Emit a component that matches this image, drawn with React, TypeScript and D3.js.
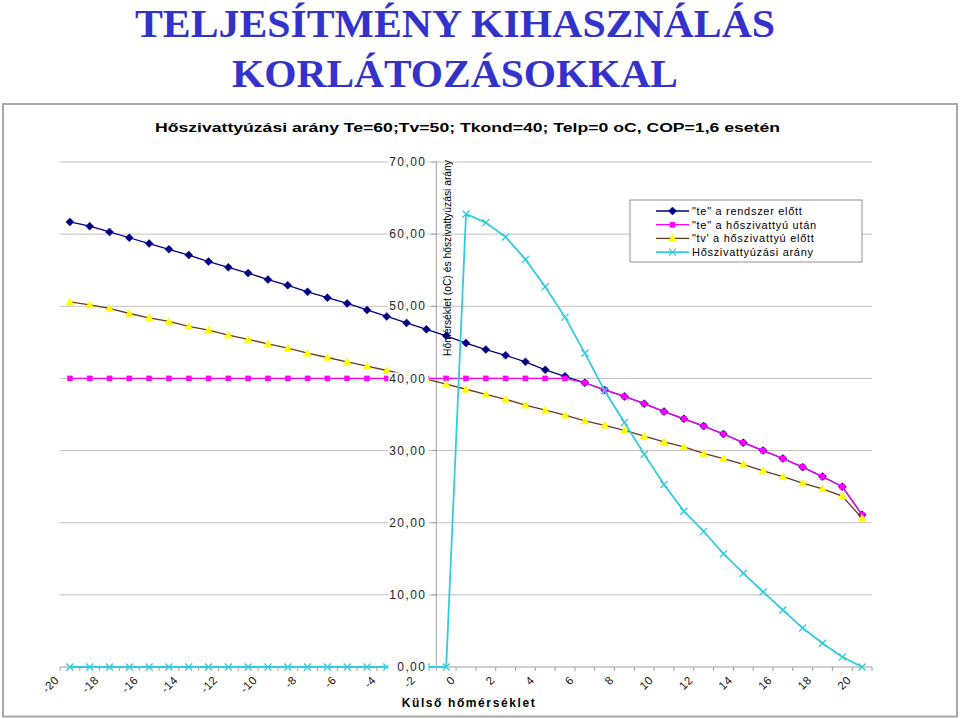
import React from 'react';
import * as d3 from 'd3';

const temps = [-20, -19, -18, -17, -16, -15, -14, -13, -12, -11, -10, -9, -8, -7, -6, -5, -4, -3, -2, -1, 0, 1, 2, 3, 4, 5, 6, 7, 8, 9, 10, 11, 12, 13, 14, 15, 16, 17, 18, 19, 20];
const tickLabels = [-20, -18, -16, -14, -12, -10, -8, -6, -4, -2, 0, 2, 4, 6, 8, 10, 12, 14, 16, 18, 20];
const yTicks = [0, 10, 20, 30, 40, 50, 60, 70];

const teBefore = [61.7, 61.1, 60.3, 59.5, 58.7, 57.9, 57.1, 56.2, 55.4, 54.6, 53.7, 52.9, 52.0, 51.2, 50.4, 49.5, 48.6, 47.7, 46.8, 45.9, 44.9, 44.0, 43.2, 42.3, 41.2, 40.3, 39.4, 38.4, 37.5, 36.5, 35.4, 34.4, 33.4, 32.3, 31.1, 30.0, 28.9, 27.7, 26.4, 25.0, 21.1];
const teAfter = [40, 40, 40, 40, 40, 40, 40, 40, 40, 40, 40, 40, 40, 40, 40, 40, 40, 40, 40, 40, 40, 40, 40, 40, 40, 40, 39.4, 38.4, 37.5, 36.5, 35.4, 34.4, 33.4, 32.3, 31.1, 30.0, 28.9, 27.7, 26.4, 25.0, 21.1];
const tvBefore = [50.6, 50.2, 49.7, 49.0, 48.4, 47.9, 47.2, 46.7, 46.0, 45.4, 44.8, 44.2, 43.5, 42.9, 42.3, 41.7, 41.1, 40.5, 39.9, 39.2, 38.5, 37.8, 37.1, 36.3, 35.6, 34.9, 34.1, 33.5, 32.8, 32.0, 31.2, 30.5, 29.6, 28.9, 28.1, 27.2, 26.4, 25.5, 24.7, 23.7, 20.6];
const hpRatio = [0, 0, 0, 0, 0, 0, 0, 0, 0, 0, 0, 0, 0, 0, 0, 0, 0, 0, 0, 0, 62.8, 61.6, 59.6, 56.5, 52.7, 48.5, 43.5, 38.3, 33.9, 29.5, 25.3, 21.6, 18.8, 15.7, 13.0, 10.4, 7.9, 5.4, 3.3, 1.4, 0];

const seriesNames = ['"te" a rendszer előtt', '"te" a hőszivattyú után', '"tv\' a hőszivattyú előtt', 'Hőszivattyúzási arány'];

const FONT = 'Arial, "Liberation Sans", Helvetica, sans-serif';

type Marker = 'diamond' | 'square' | 'triangle' | 'x';

function MarkerShape({ kind, x, y, fill, stroke }: { kind: Marker; x: number; y: number; fill: string; stroke: string }) {
  if (kind === 'diamond') return <path d={`M${x},${y - 4}L${x + 4},${y}L${x},${y + 4}L${x - 4},${y}Z`} fill={fill} stroke={stroke} strokeWidth={0.5} />;
  if (kind === 'square') return <rect x={x - 2.5} y={y - 2.5} width={5} height={5} fill={fill} stroke={stroke} strokeWidth={0.5} />;
  if (kind === 'triangle') return <path d={`M${x},${y - 4}L${x + 4},${y + 3}L${x - 4},${y + 3}Z`} fill={fill} stroke={fill} strokeWidth={0.5} />;
  return <path d={`M${x - 3.5},${y - 3.5}L${x + 3.5},${y + 3.5}M${x - 3.5},${y + 3.5}L${x + 3.5},${y - 3.5}`} stroke={stroke} strokeWidth={1.3} fill="none" />;
}

export default function App() {
  const x = d3.scaleBand<number>().domain(temps).range([60, 872]).paddingInner(0).paddingOuter(0);
  const y = d3.scaleLinear().domain([0, 70]).range([667, 162]);
  const cx = (t: number) => (x(t) as number) + x.bandwidth() / 2;
  const line = d3.line<number>().x((_, i) => cx(temps[i])).y((d) => y(d));
  const yAxisX = x(-1) as number;
  const x0 = 60, x1 = 872;

  const series = [
    { name: seriesNames[0], data: teBefore, color: '#000080', mfill: '#000080', mstroke: '#000080', marker: 'diamond' as Marker, w: 1.3 },
    { name: seriesNames[1], data: teAfter, color: '#FF00FF', mfill: '#FF00FF', mstroke: '#FF00FF', marker: 'square' as Marker, w: 1.3 },
    { name: seriesNames[2], data: tvBefore, color: '#6b3a1f', mfill: '#FFFF00', mstroke: '#FFFF00', marker: 'triangle' as Marker, w: 1.3 },
    { name: seriesNames[3], data: hpRatio, color: '#33CCDD', mfill: 'none', mstroke: '#33CCDD', marker: 'x' as Marker, w: 1.8 },
  ];

  const boundaries = temps.map((t) => x(t) as number).concat([x1]);

  return (
    <svg width={960} height={719} style={{ position: 'absolute', left: 0, top: 0, background: '#fff' }} fontFamily={FONT}>
      <rect x={0} y={0} width={960} height={719} fill="#fff" />
      {/* main titles */}
      <text x={455} y={37} textAnchor="middle" fontFamily='"Liberation Serif", "Times New Roman", serif' fontWeight="bold" fontSize={40} fill="#3333CC" textLength={640} lengthAdjust="spacingAndGlyphs">TELJESÍTMÉNY KIHASZNÁLÁS</text>
      <text x={455} y={87} textAnchor="middle" fontFamily='"Liberation Serif", "Times New Roman", serif' fontWeight="bold" fontSize={40} fill="#3333CC" textLength={446} lengthAdjust="spacingAndGlyphs">KORLÁTOZÁSOKKAL</text>

      {/* chart border */}
      <rect x={3} y={104} width={954} height={612.5} fill="#fff" stroke="#a8a8a8" strokeWidth={2} />

      <text x={467.5} y={132} textAnchor="middle" fontWeight="bold" fontSize={13} fill="#000" textLength={625} lengthAdjust="spacingAndGlyphs">Hőszivattyúzási arány Te=60;Tv=50; Tkond=40; Telp=0 oC, COP=1,6 esetén</text>

      {/* gridlines */}
      {yTicks.filter((v) => v > 0).map((v) => (
        <line key={'g' + v} x1={x0} x2={x1} y1={y(v)} y2={y(v)} stroke="#c0c0c0" strokeWidth={1} />
      ))}

      {/* x axis */}
      <line x1={x0} x2={x1} y1={y(0)} y2={y(0)} stroke="#a0a0a0" strokeWidth={1} />
      {boundaries.map((b, i) => (
        <line key={'xt' + i} x1={b} x2={b} y1={y(0)} y2={y(0) + 4} stroke="#a0a0a0" strokeWidth={1} />
      ))}
      {/* y axis */}
      <line x1={yAxisX} x2={yAxisX} y1={y(70)} y2={y(0)} stroke="#a0a0a0" strokeWidth={1} />
      {yTicks.map((v) => (
        <line key={'yt' + v} x1={yAxisX - 5} x2={yAxisX} y1={y(v)} y2={y(v)} stroke="#a0a0a0" strokeWidth={1} />
      ))}

      {/* y axis title */}
      <text transform={`translate(${yAxisX + 15},258) rotate(-90)`} textAnchor="middle" fontSize={11} fill="#000" textLength={196} lengthAdjust="spacingAndGlyphs">Hőmérséklet (oC) és hőszivattyúzási arány</text>

      {/* series */}
      {series.map((s) => (
        <g key={s.name}>
          <path d={line(s.data) as string} fill="none" stroke={s.color} strokeWidth={s.w} />
          {s.data.map((d, i) => (
            <MarkerShape key={i} kind={s.marker} x={cx(temps[i])} y={y(d)} fill={s.mfill} stroke={s.mstroke} />
          ))}
        </g>
      ))}

      {/* y tick labels */}
      {yTicks.map((v) => (
        <g key={'yl' + v}>
          <rect x={yAxisX - 48} y={y(v) - 6} width={40} height={12} fill="#fff" />
          <text x={yAxisX - 10} y={y(v)} dy="0.35em" textAnchor="end" fontSize={12} letterSpacing={1.4} fill="#222">{d3.format('.2f')(v).replace('.', ',')}</text>
        </g>
      ))}

      <text x={469} y={707} textAnchor="middle" fontWeight="bold" fontSize={12} letterSpacing={1.6} fill="#000">Külső hőmérséklet</text>

      {/* legend */}
      <rect x={630} y={200} width={232} height={62} fill="#fff" stroke="#909090" strokeWidth={1} />
      {series.map((s, i) => {
        const ly = 211 + i * 13.7;
        return (
          <g key={'lg' + i}>
            <line x1={656} x2={689} y1={ly} y2={ly} stroke={s.color} strokeWidth={s.w} />
            <MarkerShape kind={s.marker} x={672.5} y={ly} fill={s.mfill} stroke={s.mstroke} />
            <text x={692} y={ly} dy="0.35em" fontSize={11} letterSpacing={0.7} fill="#000">{s.name}</text>
          </g>
        );
      })}

      {/* x tick labels (drawn last) */}
      <g>
        {tickLabels.map((t, i) => (
          <text key={`xl_${i}`} transform={`translate(${cx(t) - 13},${y(0) + 11}) rotate(-45)`} textAnchor="end" dy="0.35em" fontSize={11.5} letterSpacing={0.5} fill="#111">{String(t)}</text>
        ))}
      </g>
    </svg>
  );
}
